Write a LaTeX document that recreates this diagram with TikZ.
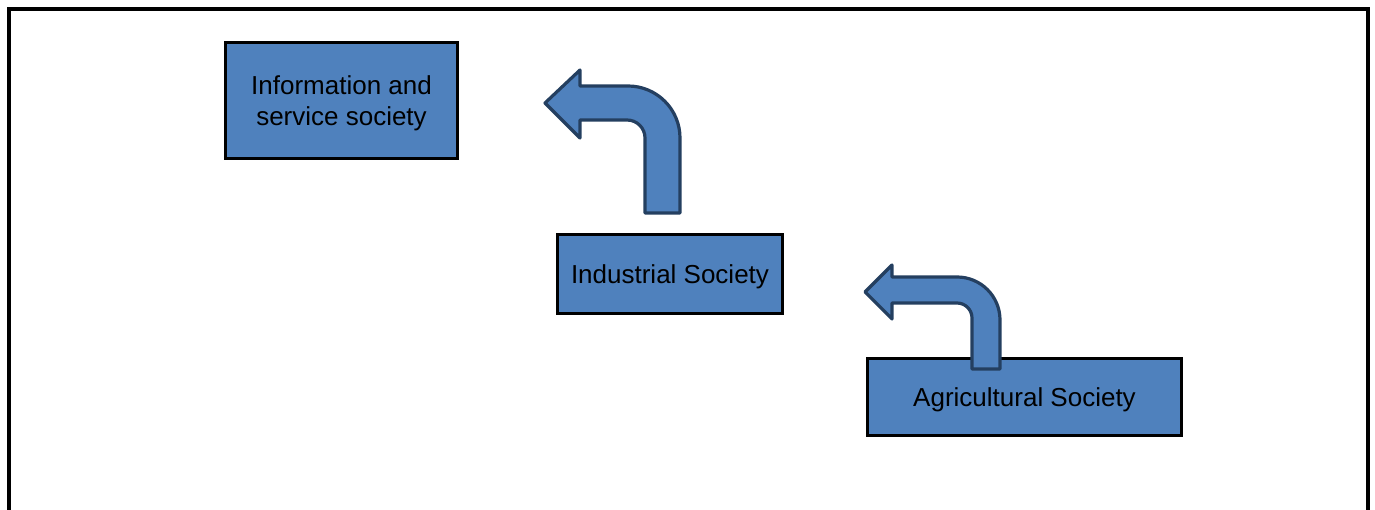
\documentclass[tikz,border=0pt]{standalone}
\usepackage{fontspec}
\setmainfont{Liberation Sans}
\definecolor{boxblue}{HTML}{4F81BD}
\definecolor{arrowline}{HTML}{243F60}
\begin{document}
\begin{tikzpicture}[x=1pt,y=-1pt,
  society/.style={draw=black,line width=3.5pt,fill=boxblue,inner sep=0pt,align=center,
    font=\fontsize{26}{31}\selectfont,text=black,text depth=0pt},
  bentarrow/.style={draw=arrowline,line width=3.2pt,fill=boxblue,line join=round}]
\useasboundingbox (0,0) rectangle (1375,510);
\fill[white] (0,0) rectangle (1375,510);
\draw[line width=3.2pt] (9,510) -- (9,9) -- (1368,9) -- (1368,510);

\node[society,minimum width=232pt,minimum height=116pt] (info) at (341.5,100.5)
  {Information and\\service society};
\node[society,minimum width=225pt,minimum height=79pt] (ind) at (670,274)
  {Industrial Society};
\node[society,minimum width=314pt,minimum height=77pt] (agr) at (1024.5,397)
  {Agricultural Society};

% bent arrow from Industrial towards Information
\draw[bentarrow] (645,213) [rounded corners=18pt] -- (645,120) [sharp corners] -- (580,120)
  -- (580,138) -- (545,103) -- (580,70) -- (580,86) [rounded corners=52pt] -- (680,86)
  [sharp corners] -- (680,213) -- cycle;
% bent arrow from Agricultural towards Industrial
\draw[bentarrow] (972,369) [rounded corners=15pt] -- (972,303) [sharp corners] -- (892,303)
  -- (892,319) -- (865,292) -- (892,265) -- (892,277) [rounded corners=43pt] -- (1000,277)
  [sharp corners] -- (1000,369) -- cycle;
\end{tikzpicture}
\end{document}
